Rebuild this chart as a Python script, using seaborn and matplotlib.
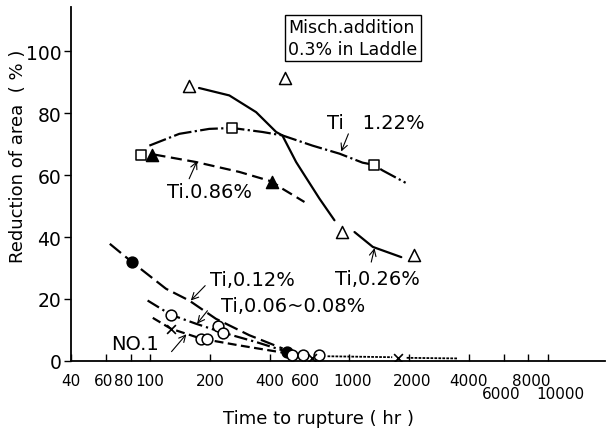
import matplotlib
matplotlib.use("Agg")
import matplotlib.pyplot as plt
import matplotlib.transforms as mtransforms
import seaborn as sns

# ---- measured points (time to rupture in hr, reduction of area in %) ----
# Ti 1.22 %  (open squares, dash-dot curve)
ti122_pts_x = [90, 258, 1330]
ti122_pts_y = [66.6, 75.2, 63.3]
ti122_curve_x = [99, 140, 198, 258, 367, 462, 655, 896, 1170, 1330, 1475, 1927]
ti122_curve_y = [69.5, 73.3, 74.9, 75.2, 73.9, 72.8, 69.5, 66.9, 64.0, 63.3, 61.5, 57.5]

# Ti 0.86 %  (filled triangles, dashed curve)
ti086_pts_x = [102, 410]
ti086_pts_y = [66.6, 57.9]
ti086_curve_x = [105, 170, 281, 410, 462, 597]
ti086_curve_y = [66.6, 64.2, 61.0, 57.9, 55.6, 51.3]

# Ti 0.26 %  (open triangles, solid curve in two pieces)
ti026_pts_x = [156, 479, 925, 2113]
ti026_pts_y = [88.7, 91.3, 41.6, 34.1]
ti026_curve1_x = [176, 250, 341, 430, 462, 542, 583, 710, 845]
ti026_curve1_y = [88.1, 85.7, 80.3, 73.9, 72.8, 64.2, 61.0, 52.4, 45.4]
ti026_curve2_x = [1066, 1318, 1833]
ti026_curve2_y = [41.6, 36.8, 33.5]

# Ti 0.12 %  (filled circles, long-dash curve)
ti012_pts_x = [81, 486]
ti012_pts_y = [31.9, 2.9]
ti012_curve_x = [62.6, 81, 120, 157, 214, 315, 464]
ti012_curve_y = [37.8, 31.9, 23.3, 19.5, 13.6, 8.3, 4.0]

# Ti 0.06~0.08 %  (open circles, dash-dot curve)
ti006_pts_x = [127, 180, 192, 218, 233, 519, 590, 710]
ti006_pts_y = [14.9, 7.2, 7.2, 11.3, 9.1, 2.0, 2.0, 1.8]
ti006_curve_x = [97, 127, 170, 233, 341, 464]
ti006_curve_y = [19.5, 14.9, 12.0, 9.1, 6.1, 3.4]

# NO.1  (crosses, dashed curve with a fine tail)
no1_pts_x = [127, 655, 1755]
no1_pts_y = [10.4, 1.0, 1.0]
no1_curve_x = [103, 127, 180, 281, 464]
no1_curve_y = [13.9, 10.4, 7.2, 5.0, 2.7]
no1_tail1_x = [780, 1650]
no1_tail1_y = [1.5, 1.2]
no1_tail2_x = [1950, 3520]
no1_tail2_y = [1.0, 0.8]

x_ticks = [40, 60, 80, 100, 200, 400, 600, 1000, 2000, 4000, 6000, 8000, 10000]
x_tick_labels = ["40", "60", "80", "100", "200", "400", "600", "1000", "2000",
                 "4000", "6000", "8000", "10000"]
y_ticks = [0, 20, 40, 60, 80, 100]

sns.set_theme(style="ticks")
K = "black"
plt.rcParams.update({
    "font.family": ["DejaVu Sans"],
    "text.color": K,
    "axes.labelcolor": K,
    "xtick.color": K,
    "ytick.color": K,
})

fig = plt.figure(figsize=(6.08, 4.35), dpi=100)
ax = fig.add_axes([0.117, 0.168, 0.878, 0.814])
ax.set_xscale("log")

LW = 1.6


def curve(x, y, ls, lw=LW):
    sns.lineplot(x=x, y=y, ax=ax, color=K, linewidth=lw, linestyle=ls,
                 estimator=None, sort=False)


curve(ti122_curve_x, ti122_curve_y, (0, (8, 1.5, 1, 1.5)))
curve(ti086_curve_x, ti086_curve_y, (0, (5, 2.5)))
curve(ti026_curve1_x, ti026_curve1_y, "-")
curve(ti026_curve2_x, ti026_curve2_y, "-")
curve(ti012_curve_x, ti012_curve_y, (0, (6.5, 2.5)))
curve(ti006_curve_x, ti006_curve_y, (0, (6, 1.8, 1, 1.8)))
curve(no1_curve_x, no1_curve_y, (0, (4, 2)))
curve(no1_tail1_x, no1_tail1_y, (0, (1.5, 0.7)), lw=1.3)
curve(no1_tail2_x, no1_tail2_y, (0, (1.5, 0.7)), lw=1.3)


def marks(x, y, marker, face, size):
    sns.scatterplot(x=x, y=y, ax=ax, marker=marker, s=size, color=face,
                    edgecolor=K, linewidth=1.1, zorder=5)


marks(ti122_pts_x, ti122_pts_y, "s", "white", 55)
marks(ti086_pts_x, ti086_pts_y, "^", K, 75)
marks(ti026_pts_x, ti026_pts_y, "^", "white", 75)
marks(ti012_pts_x, ti012_pts_y, "o", K, 60)
marks(ti006_pts_x, ti006_pts_y, "o", "white", 60)
sns.scatterplot(x=no1_pts_x, y=no1_pts_y, ax=ax, marker="x", s=40, color=K,
                linewidth=1.2, zorder=5)

# ---- curve labels with small pointer arrows ----
arrow = dict(arrowstyle="->", color=K, lw=0.8, shrinkA=0, shrinkB=0)
lab = dict(fontsize=14, color=K, ha="center", va="center")
ax.text(198, 54.6, "Ti.0.86%", **lab)
ax.annotate("", xy=(172, 64.5), xytext=(157, 58.8), arrowprops=arrow)
ax.text(1360, 77.0, "Ti   1.22%", **lab)
ax.annotate("", xy=(914, 67.6), xytext=(993, 73.3), arrowprops=arrow)
ax.text(1393, 26.5, "Ti,0.26%", **lab)
ax.annotate("", xy=(1344, 36.4), xytext=(1294, 31.9), arrowprops=arrow)
ax.text(327, 26.2, "Ti,0.12%", **lab)
ax.annotate("", xy=(160, 19.5), xytext=(189, 24.3), arrowprops=arrow)
ax.text(525, 17.8, "Ti,0.06~0.08%", **lab)
ax.annotate("", xy=(172, 12.0), xytext=(194, 16.2), arrowprops=arrow)
ax.text(84, 5.6, "NO.1", **lab)
ax.annotate("", xy=(152, 8.6), xytext=(128, 3.0), arrowprops=arrow)

ax.text(495, 104.3, "Misch.addition\n0.3% in Laddle", fontsize=12.5,
        ha="left", va="center", linespacing=1.25,
        bbox=dict(boxstyle="square,pad=0.2", facecolor="white",
                  edgecolor=K, linewidth=1.0))

# ---- axes ----
ax.set_xlim(40, 19400)
ax.set_ylim(0, 114.3)
ax.set_xticks(x_ticks)
ax.set_xticklabels(x_tick_labels, fontsize=11)
ax.xaxis.set_minor_locator(matplotlib.ticker.NullLocator())
ax.set_yticks(y_ticks)
ax.set_yticklabels([str(v) for v in y_ticks], fontsize=13.5)
ax.tick_params(axis="x", direction="in", length=5, width=1.0, pad=9)
ax.tick_params(axis="y", direction="out", length=5, width=1.0, pad=2)

# nudge crowded tick labels; 6000 and 10000 sit on a second, lower row
label_shift = {"60": (-3, 0), "80": (-7, 0), "1000": (4, 0), "2000": (3, 0),
               "8000": (3, 0), "6000": (-2, -13), "10000": (13, -13)}
for lbl in ax.get_xticklabels():
    dx, dy = label_shift.get(lbl.get_text(), (0, 0))
    if dx or dy:
        lbl.set_transform(mtransforms.offset_copy(
            lbl.get_transform(), fig=fig, x=dx, y=dy, units="dots"))

sns.despine(ax=ax)
for s in ("left", "bottom"):
    ax.spines[s].set_color(K)
    ax.spines[s].set_linewidth(1.3)

ax.set_xlabel("Time to rupture ( hr )", fontsize=13)
ax.xaxis.set_label_coords(0.464, -0.135)
ax.set_ylabel("Reduction of area  ( % )", fontsize=13)
ax.yaxis.set_label_coords(-0.082, 0.582)

fig.savefig("out.png", dpi=100)
